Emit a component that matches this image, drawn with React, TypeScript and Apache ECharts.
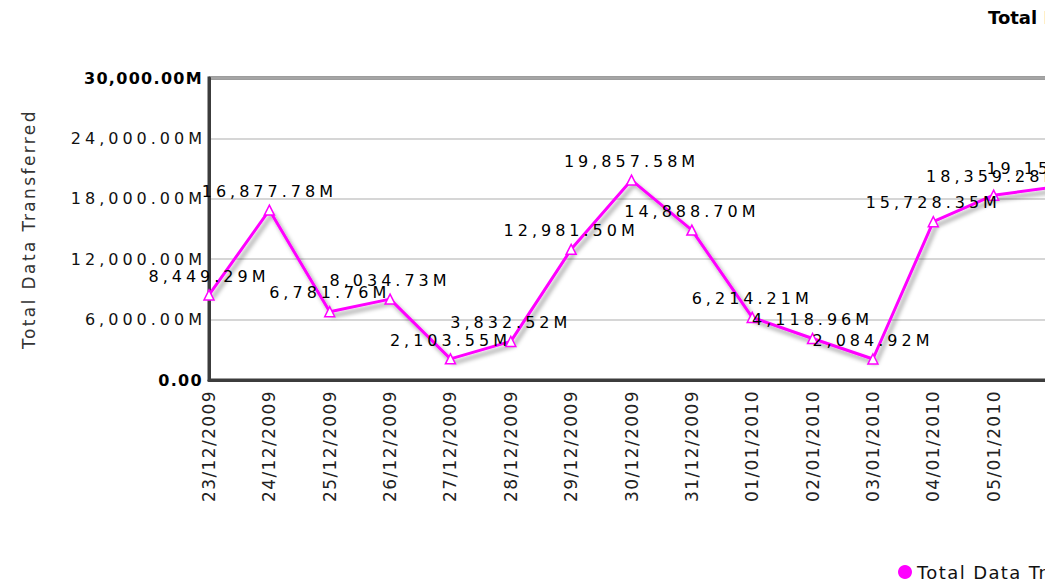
import React, { useEffect, useRef } from "react";
import * as echarts from "echarts";

const categories = [
  "23/12/2009", "24/12/2009", "25/12/2009", "26/12/2009", "27/12/2009",
  "28/12/2009", "29/12/2009", "30/12/2009", "31/12/2009", "01/01/2010",
  "02/01/2010", "03/01/2010", "04/01/2010", "05/01/2010", "06/01/2010",
];
const totalData = [
  8449.29, 16877.78, 6781.76, 8034.73, 2103.55,
  3832.52, 12981.5, 19857.58, 14888.7, 6214.21,
  4118.96, 2084.92, 15728.35, 18359.28, 19153.62,
];
const seriesName = "Total Data Transferred";
const axisTitle = "Total Data Transferred";
const chartTitle = "Total Data Transferred";
const yMin = 0;
const yMax = 30000;
const yStep = 6000;

const fmt = (v: number) =>
  v.toLocaleString("en-US", { minimumFractionDigits: 2, maximumFractionDigits: 2 });

const css = `
text[style*="XWide"] { letter-spacing: 4px; }
text[style*="XBold"] { letter-spacing: 1.3px; }
text[style*="XName"] { letter-spacing: 2.4px; }
text[style*="XCat"] { letter-spacing: 1.4px; }
text[style*="XLeg"] { letter-spacing: 1.4px; }
`;

export default function App() {
  const ref = useRef<HTMLDivElement>(null);
  useEffect(() => {
    if (!ref.current) return;
    const chart = echarts.init(ref.current, null, { renderer: "svg" });
    chart.setOption({
      animation: false,
      backgroundColor: "#ffffff",
      graphic: [
        {
          type: "text",
          left: 988,
          top: 8,
          style: {
            text: chartTitle,
            font: "bold 18px 'DejaVu Sans'",
            fill: "#000000",
          },
        },
      ],
      legend: {
        left: 893,
        top: 558,
        icon: "circle",
        itemWidth: 14,
        itemHeight: 14,
        textStyle: { fontSize: 18, fontFamily: "XLeg, DejaVu Sans", color: "#111111" },
        data: [{ name: seriesName, itemStyle: { color: "#ff00ff", borderWidth: 0 } }],
      },
      grid: {
        left: 209,
        top: 78,
        width: 845,
        height: 302,
        show: true,
        borderColor: "#3c3c3c",
        borderWidth: 3,
        backgroundColor: "transparent",
      },
      xAxis: {
        type: "category",
        data: categories,
        boundaryGap: false,
        axisLine: { show: true, lineStyle: { color: "#3c3c3c", width: 3 } },
        axisTick: { show: false },
        splitLine: { show: false },
        axisLabel: {
          rotate: 90,
          margin: 10,
          fontSize: 17,
          fontFamily: "XCat, DejaVu Sans",
          color: "#222222",
          interval: 0,
        },
      },
      yAxis: {
        type: "value",
        min: yMin,
        max: yMax,
        interval: yStep,
        name: axisTitle,
        nameLocation: "middle",
        nameRotate: 90,
        nameGap: 172,
        nameTextStyle: { fontSize: 17, fontFamily: "XName, DejaVu Sans", color: "#333333" },
        axisLine: { show: true, lineStyle: { color: "#3c3c3c", width: 3 } },
        axisTick: { show: false },
        splitLine: { show: true, lineStyle: { color: "#c8c8c8", width: 1.5 } },
        axisLabel: {
          margin: 3,
          fontSize: 16,
          fontFamily: "XWide, DejaVu Sans",
          color: "#111111",
          formatter: (v: number) => {
            if (v === yMin) return "{b|" + fmt(v) + "}";
            if (v === yMax) return "{b|" + fmt(v) + "M}";
            return fmt(v) + "M";
          },
          rich: {
            b: {
              fontSize: 16,
              fontWeight: "bold",
              fontFamily: "XBold, DejaVu Sans",
              color: "#000000",
              padding: [0, 3, 0, 0],
            },
          },
        },
      },
      series: [
        {
          name: seriesName,
          type: "line",
          data: totalData,
          color: "#ff00ff",
          symbol: "triangle",
          symbolSize: 10,
          showAllSymbol: true,
          lineStyle: {
            color: "#ff00ff",
            width: 3,
            shadowColor: "rgba(0,0,0,0.4)",
            shadowBlur: 4,
            shadowOffsetX: 3,
            shadowOffsetY: 4,
          },
          itemStyle: { color: "#ffffff", borderColor: "#ff00ff", borderWidth: 1.5 },
          label: {
            show: true,
            position: "top",
            distance: 5,
            fontSize: 16,
            fontFamily: "XWide, DejaVu Sans",
            color: "#000000",
            formatter: (p: any) => fmt(p.value) + "M",
          },
          emphasis: { disabled: true },
        },
      ],
    });
    return () => chart.dispose();
  }, []);
  return (
    <>
      <style>{css}</style>
      <div
        style={{ position: "fixed", left: 0, top: 0, width: 1045, height: 580, overflow: "hidden", background: "#fff" }}
      >
        <div ref={ref} style={{ width: 1110, height: 580 }} />
      </div>
    </>
  );
}
